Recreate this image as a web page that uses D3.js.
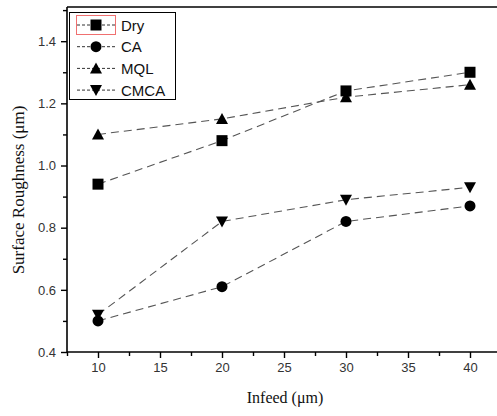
<!DOCTYPE html>
<html>
<head>
<meta charset="utf-8">
<script src="https://cdn.jsdelivr.net/npm/d3@7"></script>
<style>
body { margin: 0; background: #fff; }
</style>
</head>
<body>
<div class="plot1"></div>
<script>
var infeed = [10, 20, 30, 40];
var dry = [0.94, 1.08, 1.24, 1.30];
var ca = [0.50, 0.61, 0.82, 0.87];
var mql = [1.10, 1.15, 1.22, 1.26];
var cmca = [0.52, 0.82, 0.89, 0.93];
var seriesNames = ["Dry", "CA", "MQL", "CMCA"];
var xTicks = [10, 15, 20, 25, 30, 35, 40];
var yTicks = [0.4, 0.6, 0.8, 1.0, 1.2, 1.4];

var series = [
  {name: seriesNames[0], values: dry, symbol: d3.symbolSquare},
  {name: seriesNames[1], values: ca, symbol: d3.symbolCircle},
  {name: seriesNames[2], values: mql, symbol: "up"},
  {name: seriesNames[3], values: cmca, symbol: "down"}
];

var svg = d3.select(".plot1").append("svg")
  .attr("width", 497)
  .attr("height", 416);

var padLeft = 67, padRight = 501, padTop = 7, padBottom = 352;

var x = d3.scaleLinear().domain([7.5, 42.5]).range([padLeft, padRight]);
var y = d3.scaleLinear().domain([0.4, 1.51]).range([padBottom, padTop]);

// marker shapes
function markerPath(sym) {
  if (sym === "up") return "M0,-6L6,5L-6,5Z";
  if (sym === "down") return "M0,6L6,-5L-6,-5Z";
  if (sym === d3.symbolSquare) return "M-5.5,-5.5H5.5V5.5H-5.5Z";
  return d3.symbol().type(sym).size(95)();
}

// lines
var line = d3.line()
  .x(function(d, i) { return x(infeed[i]); })
  .y(function(d) { return y(d); });

series.forEach(function(s) {
  svg.append("path")
    .attr("d", line(s.values))
    .attr("fill", "none")
    .attr("stroke", "#555")
    .attr("stroke-width", 1.1)
    .attr("stroke-dasharray", "8,5");
});

series.forEach(function(s) {
  svg.selectAll(null)
    .data(s.values)
    .enter()
    .append("path")
    .attr("d", markerPath(s.symbol))
    .attr("transform", function(d, i) { return "translate(" + x(infeed[i]) + "," + y(d) + ")"; })
    .attr("fill", "#000");
});

// axes
var xAxis = svg.append("g")
  .attr("transform", "translate(0," + padBottom + ")")
  .call(d3.axisBottom(x).tickValues(xTicks).tickSize(6).tickPadding(5).tickFormat(d3.format("d")));
svg.append("g")
  .attr("transform", "translate(0," + padBottom + ")")
  .call(d3.axisBottom(x).tickValues([7.5, 12.5, 17.5, 22.5, 27.5, 32.5, 37.5]).tickSize(4).tickFormat(""))
  .select(".domain").remove();

var yAxis = svg.append("g")
  .attr("transform", "translate(" + padLeft + ",0)")
  .call(d3.axisLeft(y).tickValues(yTicks).tickSize(6).tickPadding(5).tickFormat(d3.format(".1f")));
svg.append("g")
  .attr("transform", "translate(" + padLeft + ",0)")
  .call(d3.axisLeft(y).tickValues([0.5, 0.7, 0.9, 1.1, 1.3, 1.5]).tickSize(4).tickFormat(""))
  .select(".domain").remove();

svg.selectAll(".domain").attr("stroke", "#000").attr("stroke-width", 1.6);
svg.selectAll(".tick line").attr("stroke", "#000").attr("stroke-width", 1.4);
svg.selectAll(".tick text")
  .style("font-family", "Arial, 'Liberation Sans', sans-serif")
  .style("font-size", "13px")
  .attr("fill", "#333");
xAxis.selectAll(".domain").attr("d", "M" + padLeft + ",0H" + padRight);
yAxis.selectAll(".domain").attr("d", "M0," + (padBottom - padBottom) + "V0")
  .attr("d", "M0," + padBottom + "V" + padTop);

// top border
svg.append("line")
  .attr("x1", padLeft).attr("x2", padRight)
  .attr("y1", padTop).attr("y2", padTop)
  .attr("stroke", "#000").attr("stroke-width", 1.6);

// axis titles
svg.append("text")
  .attr("x", (padLeft + 497) / 2 + 3)
  .attr("y", 403)
  .attr("text-anchor", "middle")
  .style("font-family", "'Liberation Serif', 'Times New Roman', serif")
  .style("font-size", "16px")
  .attr("fill", "#111")
  .text("Infeed (μm)");

svg.append("text")
  .attr("transform", "translate(24,190) rotate(-90)")
  .attr("text-anchor", "middle")
  .style("font-family", "'Liberation Serif', 'Times New Roman', serif")
  .style("font-size", "17px")
  .attr("fill", "#111")
  .text("Surface Roughness (μm)");

// legend
var legend = svg.append("g");
legend.append("rect")
  .attr("x", 69.5).attr("y", 12.5)
  .attr("width", 106).attr("height", 87)
  .attr("fill", "#fff").attr("stroke", "#000").attr("stroke-width", 1);
legend.append("rect")
  .attr("x", 76.5).attr("y", 15.5)
  .attr("width", 39).attr("height", 19)
  .attr("fill", "none").attr("stroke", "#f07070").attr("stroke-width", 1);

series.forEach(function(s, i) {
  var ly = 25 + i * 21.7;
  legend.append("line")
    .attr("x1", 77).attr("x2", 115)
    .attr("y1", ly).attr("y2", ly)
    .attr("stroke", "#333").attr("stroke-width", 1)
    .attr("stroke-dasharray", "3,2");
  legend.append("path")
    .attr("d", markerPath(s.symbol))
    .attr("transform", "translate(96," + ly + ")")
    .attr("fill", "#000");
  legend.append("text")
    .attr("x", 121).attr("y", ly + 5.5)
    .style("font-family", "Arial, 'Liberation Sans', sans-serif")
    .style("font-size", "15px")
    .attr("fill", "#111")
    .text(s.name);
});
</script>
</body>
</html>
